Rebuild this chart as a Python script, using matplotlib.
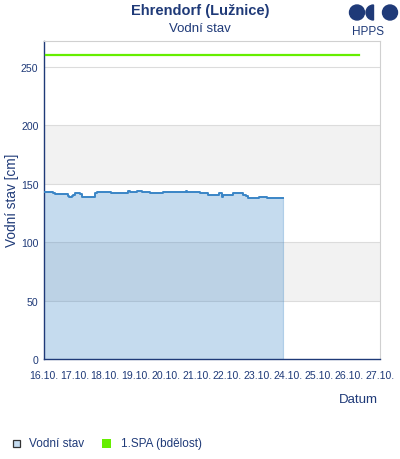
import matplotlib
matplotlib.use('Agg')
import matplotlib.pyplot as plt
from matplotlib.patches import Circle, Wedge, Rectangle

# data (days from 16.10. 00:00, water level in cm)
days = [0.00, 0.25, 0.30, 0.36, 0.74, 0.78, 0.83, 0.91, 0.96, 1.00, 1.07,
        1.18, 1.23, 1.61, 1.67, 1.72, 2.16, 2.20, 2.71, 2.76, 2.82, 2.98,
        3.03, 3.14, 3.20, 3.47, 3.52, 3.80, 3.91, 4.62, 4.65, 4.67, 5.05,
        5.10, 5.33, 5.38, 5.71, 5.74, 5.82, 5.87, 6.14, 6.20, 6.47, 6.52,
        6.61, 6.69, 7.01, 7.05, 7.27, 7.29, 7.81]
level = [142.6, 142.6, 141.7, 140.9, 140.9, 139.7, 138.9, 139.7, 140.6, 141.7, 141.7,
         140.9, 138.9, 138.9, 141.7, 142.6, 142.6, 141.7, 141.7, 143.4, 142.6, 142.6,
         143.4, 143.4, 142.6, 142.2, 141.7, 141.7, 142.6, 142.6, 143.4, 142.6, 142.6,
         141.7, 141.7, 140.6, 140.6, 141.7, 138.9, 140.6, 140.6, 141.7, 141.7, 140.6,
         139.2, 137.7, 137.7, 138.9, 138.9, 137.7, 137.7]
spa_days = [0.05, 10.3]
spa_level = [260, 260]
xlabels = ['16.10.', '17.10.', '18.10.', '19.10.', '20.10.', '21.10.',
           '22.10.', '23.10.', '24.10.', '25.10.', '26.10.', '27.10.']
yticks = [0, 50, 100, 150, 200, 250]

NAVY = '#1f3a78'
LINE = '#3a85c6'
GREEN = '#66ee00'

plt.rcParams['font.family'] = ['Liberation Sans', 'DejaVu Sans']

fig = plt.figure(figsize=(4, 4.6), dpi=100)
ax = fig.add_axes([0.11, 0.2174, 0.84, 0.6916])

# alternating bands
for lo in (50, 150):
    ax.axhspan(lo, lo + 50, color='#f2f2f2', zorder=0, lw=0)
for y in yticks[1:]:
    ax.axhline(y, color='#dcdcdc', lw=0.8, zorder=1)

ax.fill_between(days, level, 0, step='post', color=LINE, alpha=0.29, lw=0, zorder=2)
ax.plot([days[-1], days[-1]], [0, level[-1]], color=LINE, alpha=0.4, lw=0.8, zorder=2)
ax.step(days, level, where='post', color=LINE, lw=1.4, zorder=3)
ax.plot(spa_days, spa_level, color=GREEN, lw=1.6, zorder=3)

ax.set_xlim(0, 11)
ax.set_ylim(0, 272)
ax.set_xticks(range(len(xlabels)))
ax.set_xticklabels(xlabels)
ax.set_yticks(yticks)
ax.tick_params(length=0, labelsize=7.6, colors=NAVY)
ax.tick_params(axis='x', pad=8)
ax.tick_params(axis='y', pad=4)
for s in ('top', 'right'):
    ax.spines[s].set_color('#d0d0d0')
    ax.spines[s].set_linewidth(0.8)
for s in ('left', 'bottom'):
    ax.spines[s].set_color(NAVY)
    ax.spines[s].set_linewidth(1.0)

fig.text(0.5, 0.976, 'Ehrendorf (Lužnice)', ha='center', va='center',
         fontsize=10.5, fontweight='bold', color=NAVY)
fig.text(0.5, 0.937, 'Vodní stav', ha='center', va='center', fontsize=9.5, color=NAVY)
fig.text(0.03, 0.565, 'Vodní stav [cm]', rotation=90, ha='center', va='center',
         fontsize=9.8, color=NAVY)
fig.text(0.945, 0.13, 'Datum', ha='right', va='center', fontsize=9.5, color=NAVY)

# logo and legend drawn in pixel coordinates
W, H = 400, 460
over = fig.add_axes([0, 0, 1, 1], zorder=-1)
over.set_xlim(0, W)
over.set_ylim(H, 0)
over.set_aspect('equal')
over.axis('off')
over.add_patch(Circle((357, 13.5), 7.5, color=NAVY))
over.add_patch(Wedge((373.5, 13.5), 7.5, 90, 270, color=NAVY))
over.add_patch(Circle((390, 13.5), 7.5, color=NAVY))
over.text(368, 32, 'HPPS', ha='center', va='center', fontsize=8.5, color=NAVY)

over.add_patch(Rectangle((12.5, 440.5), 7, 7, facecolor='#c5dcf0', edgecolor='#333333', lw=0.9))
over.text(29, 444, 'Vodní stav', ha='left', va='center', fontsize=8.5, color=NAVY)
over.add_patch(Rectangle((101.5, 439.5), 9, 9, facecolor=GREEN, edgecolor='none'))
over.text(121, 444, '1.SPA (bdělost)', ha='left', va='center', fontsize=8.5, color=NAVY)

fig.savefig('out.png', dpi=100)
